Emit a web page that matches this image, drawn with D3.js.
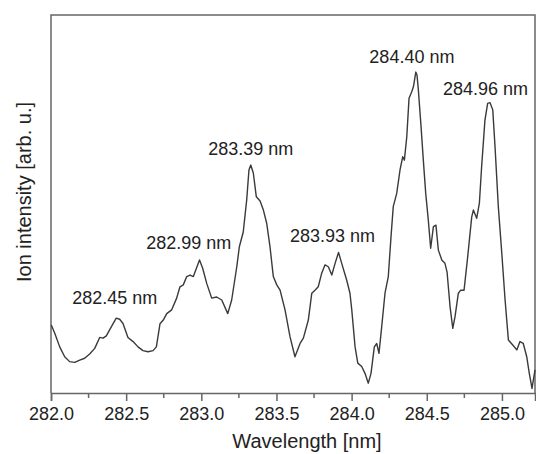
<!DOCTYPE html>
<html>
<head>
<meta charset="utf-8">
<script src="https://cdn.jsdelivr.net/npm/d3@7"></script>
<style>
  body { margin: 0; background: #fff; }
  text { font-family: "Liberation Sans", Arial, sans-serif; fill: #222; }
</style>
</head>
<body>
<div id="chart"></div>
<script>
// spectrum: wavelength [nm] and intensity [arb. u., 0-100]
const wavelength = [
  282.002, 282.025, 282.058, 282.091, 282.124, 282.158, 282.191, 282.224, 282.257, 282.291,
  282.324, 282.346, 282.368, 282.401, 282.434, 282.457, 282.479, 282.512, 282.546, 282.579,
  282.612, 282.645, 282.679, 282.701, 282.725, 282.747, 282.770, 282.803, 282.836, 282.858,
  282.880, 282.903, 282.925, 282.947, 282.988, 283.009, 283.036, 283.069, 283.102, 283.136,
  283.176, 283.202, 283.236, 283.253, 283.279, 283.302, 283.317, 283.329, 283.346, 283.366,
  283.391, 283.413, 283.435, 283.457, 283.479, 283.502, 283.524, 283.557, 283.590, 283.623,
  283.657, 283.679, 283.712, 283.735, 283.756, 283.778, 283.801, 283.823, 283.845, 283.868,
  283.890, 283.913, 283.934, 283.967, 283.989, 284.001, 284.023, 284.041, 284.067, 284.089,
  284.111, 284.129, 284.151, 284.167, 284.182, 284.200, 284.222, 284.244, 284.262, 284.277,
  284.300, 284.322, 284.340, 284.351, 284.367, 284.382, 284.400, 284.411, 284.427, 284.435,
  284.444, 284.462, 284.477, 284.493, 284.510, 284.526, 284.544, 284.561, 284.577, 284.600,
  284.621, 284.635, 284.655, 284.673, 284.688, 284.710, 284.726, 284.748, 284.770, 284.799,
  284.810, 284.832, 284.850, 284.865, 284.887, 284.905, 284.921, 284.939, 284.954, 284.976,
  284.999, 285.021, 285.043, 285.072, 285.099, 285.120, 285.142, 285.165, 285.182, 285.200,
  285.220
];
const intensity = [
  18.0, 15.8, 12.2, 9.6, 8.3, 8.1, 8.7, 9.2, 10.3, 11.8,
  14.7, 14.5, 15.1, 17.5, 19.8, 19.5, 18.4, 14.7, 13.6, 12.2,
  11.2, 10.9, 11.2, 12.2, 18.3, 19.3, 21.0, 22.0, 25.1, 28.1,
  28.6, 30.8, 31.2, 30.8, 35.2, 33.0, 29.0, 25.1, 25.4, 24.6,
  21.0, 24.6, 33.4, 38.7, 42.6, 51.1, 59.0, 60.3, 58.2, 51.9,
  50.8, 48.4, 44.9, 38.7, 30.8, 28.6, 27.2, 22.0, 14.9, 9.6,
  13.1, 14.5, 19.3, 26.4, 27.2, 28.1, 31.7, 33.9, 33.4, 31.2,
  34.3, 37.2, 34.3, 29.9, 26.4, 22.0, 12.2, 7.9, 7.0, 5.2,
  2.6, 5.2, 12.2, 13.1, 10.5, 17.5, 26.4, 30.8, 41.3, 49.3,
  52.8, 59.0, 62.5, 61.6, 67.8, 78.0, 79.7, 81.0, 84.9, 84.1,
  80.2, 70.4, 61.6, 52.8, 45.8, 38.3, 44.0, 44.4, 37.8, 35.2,
  34.3, 32.0, 22.8, 17.1, 20.2, 26.4, 27.2, 27.2, 35.2, 46.6,
  48.4, 46.2, 50.2, 59.9, 72.2, 76.6, 76.8, 74.9, 65.2, 49.3,
  37.0, 24.6, 14.0, 12.7, 11.4, 13.6, 13.1, 9.6, 5.2, 1.2,
  6.1
];

// peak labels (centre wavelength, baseline level)
const peakLabels = ["282.45 nm", "282.99 nm", "283.39 nm", "283.93 nm", "284.40 nm", "284.96 nm"];
const peakLabelX = [282.424, 282.916, 283.329, 283.873, 284.401, 284.891];
const peakLabelY = [23.5, 38.1, 63.0, 39.9, 87.3, 78.8];

const majorTicks = [282.0, 282.5, 283.0, 283.5, 284.0, 284.5, 285.0];
const minorTicks = [282.25, 282.75, 283.25, 283.75, 284.25, 284.75];

const width = 536, height = 454;
const margin = { top: 15, right: 1, bottom: 61, left: 51 };

const svg = d3.select("#chart").append("svg")
  .attr("width", width)
  .attr("height", height);

const x = d3.scaleLinear()
  .domain([282, 285.22])
  .range([margin.left, width - margin.right]);

const y = d3.scaleLinear()
  .domain([0, 100])
  .range([height - margin.bottom, margin.top]);

const data = wavelength.map((w, i) => ({ w: w, v: intensity[i] }));

// frame (left, top, right)
svg.append("path")
  .attr("d", `M${x(282)},${y(0)}V${y(100)}H${x(285.22)}V${y(0)}`)
  .attr("fill", "none")
  .attr("stroke", "#666")
  .attr("stroke-width", 1.5);

// bottom axis
const xAxis = svg.append("g")
  .attr("transform", `translate(0,${y(0)})`)
  .call(d3.axisBottom(x)
    .tickValues(majorTicks)
    .tickFormat(d3.format(".1f"))
    .tickSizeOuter(0)
    .tickSize(8)
    .tickPadding(6));
xAxis.select(".domain").attr("stroke", "#666").attr("stroke-width", 1.5);
xAxis.selectAll(".tick line").attr("stroke", "#666").attr("stroke-width", 1.5);
xAxis.selectAll(".tick text")
  .attr("fill", "#222")
  .style("font-size", "18px")
  .style("font-family", "'Liberation Sans', Arial, sans-serif");

svg.append("g")
  .selectAll("line")
  .data(minorTicks)
  .join("line")
  .attr("x1", d => x(d)).attr("x2", d => x(d))
  .attr("y1", y(0)).attr("y2", y(0) + 5)
  .attr("stroke", "#666")
  .attr("stroke-width", 1.5);

// spectrum
const line = d3.line()
  .x(d => x(d.w))
  .y(d => y(d.v));

svg.append("path")
  .datum(data)
  .attr("fill", "none")
  .attr("stroke", "#3a3a3a")
  .attr("stroke-width", 1.4)
  .attr("stroke-linejoin", "round")
  .attr("d", line);

// peak annotations
svg.append("g")
  .selectAll("text")
  .data(peakLabels)
  .join("text")
  .attr("x", (d, i) => x(peakLabelX[i]))
  .attr("y", (d, i) => y(peakLabelY[i]))
  .attr("text-anchor", "middle")
  .style("font-size", "18px")
  .text(d => d);

// axis titles
svg.append("text")
  .attr("x", 307)
  .attr("y", 448)
  .attr("text-anchor", "middle")
  .style("font-size", "20px")
  .text("Wavelength [nm]");

svg.append("text")
  .attr("transform", "translate(31,192) rotate(-90)")
  .attr("text-anchor", "middle")
  .style("font-size", "20px")
  .text("Ion intensity [arb. u.]");
</script>
</body>
</html>
